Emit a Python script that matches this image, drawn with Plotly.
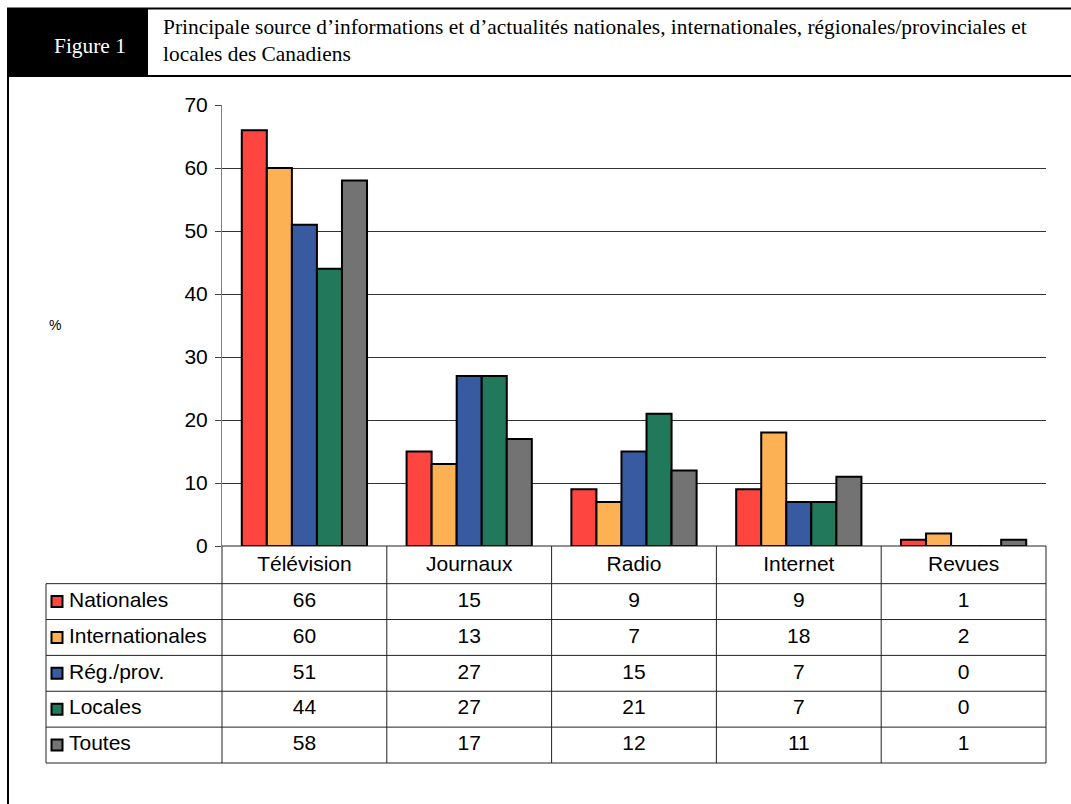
import plotly.graph_objects as go

# ---------------- data ----------------
categories = ["Télévision", "Journaux", "Radio", "Internet", "Revues"]
series_names = ["Nationales", "Internationales", "Rég./prov.", "Locales", "Toutes"]
nationales = [66, 15, 9, 9, 1]
internationales = [60, 13, 7, 18, 2]
reg_prov = [51, 27, 15, 7, 0]
locales = [44, 27, 21, 7, 0]
toutes = [58, 17, 12, 11, 1]
y_ticks = [0, 10, 20, 30, 40, 50, 60, 70]
figure_label = "Figure 1"
title_lines = [
    "Principale source d\u2019informations et d\u2019actualités nationales, internationales, régionales/provinciales et",
    "locales des Canadiens",
]
y_label = "%"

series_values = [nationales, internationales, reg_prov, locales, toutes]
colors = ["#FF4540", "#FCB154", "#385AA0", "#22785A", "#737373"]

# ---------------- layout helpers ----------------
W, H = 1071, 804
def px(x):
    return x / W
def py(y):
    return 1 - y / H

SANS = "Liberation Sans, Arial, sans-serif"
SERIF = "Liberation Serif, Times New Roman, serif"
FS = 21
FS_SERIF = 21.4

# plot area in pixels
PL, PR, PT, PB = 222, 1046, 105, 546
col_w = (PR - PL) / len(categories)
TL = 46              # table left edge
TB = 763             # table bottom
row_unit = (TB - PB) / 6.05
xl = -0.5 - (PL - TL) / col_w   # left edge of table in x2 units
pad = 2

fig = go.Figure()

for name, vals, col in zip(series_names, series_values, colors):
    fig.add_trace(go.Bar(
        x=categories, y=vals, name=name,
        marker=dict(color=col, line=dict(color="black", width=2)),
        xaxis="x", yaxis="y", showlegend=False, hoverinfo="skip",
    ))

# ---------------- table (x2/y2) ----------------
fig.add_trace(go.Scatter(
    x=list(range(len(categories))), y=[0] * len(categories), text=categories,
    mode="text", textposition="middle center",
    textfont=dict(family=SANS, size=FS, color="black"),
    xaxis="x2", yaxis="y2", showlegend=False, hoverinfo="skip", cliponaxis=False,
))
tx, ty, tt = [], [], []
for r, vals in enumerate(series_values):
    for c, v in enumerate(vals):
        tx.append(c); ty.append(r + 1); tt.append(str(v))
fig.add_trace(go.Scatter(
    x=tx, y=ty, text=tt, mode="text", textposition="middle center",
    textfont=dict(family=SANS, size=FS, color="black"),
    xaxis="x2", yaxis="y2", showlegend=False, hoverinfo="skip", cliponaxis=False,
))
fig.add_trace(go.Scatter(
    x=[xl + 11 / col_w] * len(series_names), y=list(range(1, len(series_names) + 1)),
    mode="markers",
    marker=dict(symbol="square", size=11, color=colors, line=dict(color="black", width=2)),
    xaxis="x2", yaxis="y2", showlegend=False, hoverinfo="skip", cliponaxis=False,
))
fig.add_trace(go.Scatter(
    x=[xl + 23 / col_w] * len(series_names), y=list(range(1, len(series_names) + 1)),
    text=series_names, mode="text", textposition="middle right",
    textfont=dict(family=SANS, size=FS, color="black"),
    xaxis="x2", yaxis="y2", showlegend=False, hoverinfo="skip", cliponaxis=False,
))

shapes = []
LC = "#222222"
for r in range(1, 7):
    shapes.append(dict(type="line", xref="x2", yref="y2", x0=xl, x1=4.5,
                       y0=r - 0.5, y1=r - 0.5, line=dict(color=LC, width=1)))
shapes.append(dict(type="line", xref="x2", yref="y2", x0=-0.5, x1=4.5,
                   y0=-0.55, y1=-0.55, line=dict(color=LC, width=1)))
for c in range(len(categories) + 1):
    shapes.append(dict(type="line", xref="x2", yref="y2", x0=c - 0.5, x1=c - 0.5,
                       y0=-0.55, y1=5.5, line=dict(color=LC, width=1)))
shapes.append(dict(type="line", xref="x2", yref="y2", x0=xl, x1=xl,
                   y0=0.5, y1=5.5, line=dict(color=LC, width=1)))

# frame + header
shapes.append(dict(type="rect", xref="paper", yref="paper", x0=px(7), x1=px(148),
                   y0=py(76), y1=py(8), fillcolor="black", line=dict(width=0), layer="below"))
shapes.append(dict(type="line", xref="paper", yref="paper", x0=px(7), x1=px(1071),
                   y0=py(8.5), y1=py(8.5), line=dict(color="black", width=2)))
shapes.append(dict(type="line", xref="paper", yref="paper", x0=px(7), x1=px(1071),
                   y0=py(76), y1=py(76), line=dict(color="black", width=2)))
shapes.append(dict(type="line", xref="paper", yref="paper", x0=px(8), x1=px(8),
                   y0=py(8), y1=py(804), line=dict(color="black", width=2)))

annotations = [
    dict(text=figure_label, xref="paper", yref="paper", x=px(90), y=py(46),
         xanchor="center", yanchor="middle", showarrow=False,
         font=dict(family=SERIF, size=FS_SERIF, color="white")),
    dict(text=title_lines[0], xref="paper", yref="paper", x=px(161), y=py(27),
         xanchor="left", yanchor="middle", showarrow=False,
         font=dict(family=SERIF, size=FS_SERIF, color="black")),
    dict(text=title_lines[1], xref="paper", yref="paper", x=px(161), y=py(54),
         xanchor="left", yanchor="middle", showarrow=False,
         font=dict(family=SERIF, size=FS_SERIF, color="black")),
    dict(text=y_label, xref="paper", yref="paper", x=px(55), y=py(325),
         xanchor="center", yanchor="middle", showarrow=False,
         font=dict(family=SANS, size=14, color="black")),
]

fig.update_layout(
    template="none",
    width=W, height=H, autosize=False,
    margin=dict(l=0, r=0, t=0, b=0, pad=0),
    paper_bgcolor="white", plot_bgcolor="rgba(0,0,0,0)",
    barmode="group", bargap=0.24, bargroupgap=0,
    shapes=shapes, annotations=annotations, showlegend=False,
    xaxis=dict(domain=[px(PL), px(PR)], type="category", categoryarray=categories,
               range=[-0.5, 4.5], showticklabels=False, ticks="", showgrid=False,
               zeroline=False, showline=False, anchor="y", automargin=False),
    yaxis=dict(domain=[py(PB), py(PT)], range=[0, 70], tickvals=y_ticks,
               showgrid=True, gridcolor="#333333", gridwidth=1,
               ticks="outside", ticklen=6, tickcolor="#444444", tickwidth=1,
               showline=True, linecolor="#808080", linewidth=1, zeroline=False,
               tickfont=dict(family=SANS, size=FS, color="black"),
               ticklabelstandoff=3, anchor="x", automargin=False),
    xaxis2=dict(domain=[px(TL - pad), px(PR + pad)],
                range=[xl - pad / col_w, 4.5 + pad / col_w],
                visible=False, anchor="y2", automargin=False),
    yaxis2=dict(domain=[py(TB + pad), py(PB - pad)],
                range=[5.5 + pad / row_unit, -0.55 - pad / row_unit],
                visible=False, anchor="x2", automargin=False),
)

fig.write_html("out.html")
